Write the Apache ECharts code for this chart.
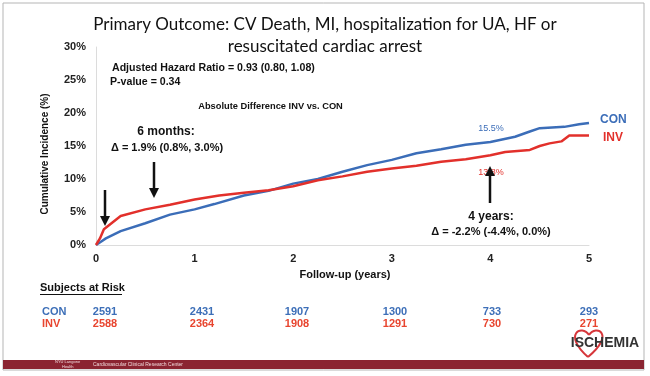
<!DOCTYPE html>
<html><head><meta charset="utf-8">
<script src="https://cdn.jsdelivr.net/npm/echarts@6/dist/echarts.min.js"></script>
<style>html,body{margin:0;padding:0;background:#fff}#c{width:650px;height:376px}</style>
</head><body><div id="c"></div>
<script>
// ---- data ----
const conTimes  = [0, 0.05, 0.1, 0.25, 0.5, 0.75, 1.0, 1.2, 1.5, 1.75, 2.0, 2.25, 2.5, 2.75, 3.0, 3.25, 3.5, 3.75, 4.0, 4.25, 4.4, 4.5, 4.75, 4.9, 5.0];
const conValues = [0, 0.5, 1.0, 2.1, 3.3, 4.6, 5.4, 6.2, 7.5, 8.2, 9.3, 10.0, 11.1, 12.1, 12.9, 13.9, 14.5, 15.2, 15.6, 16.4, 17.2, 17.7, 17.9, 18.3, 18.5];
const invTimes  = [0, 0.04, 0.08, 0.25, 0.5, 0.75, 1.0, 1.25, 1.5, 1.75, 2.0, 2.25, 2.5, 2.75, 3.0, 3.25, 3.5, 3.75, 4.0, 4.15, 4.4, 4.5, 4.6, 4.72, 4.8, 5.0];
const invValues = [0, 1.0, 2.4, 4.4, 5.4, 6.1, 6.9, 7.5, 7.9, 8.3, 8.9, 9.8, 10.4, 11.1, 11.6, 12.0, 12.6, 13.0, 13.6, 14.1, 14.4, 15.0, 15.4, 15.7, 16.6, 16.6];
const xTickLabels = ['0', '1', '2', '3', '4', '5'];
const yTickLabels = ['0%', '5%', '10%', '15%', '20%', '25%', '30%'];
const riskGroups = ['CON', 'INV'];
const riskCON = [2591, 2431, 1907, 1300, 733, 293];
const riskINV = [2588, 2364, 1908, 1291, 730, 271];

// ---- style / layout ----
const BLUE = '#3b6db8', RED = '#e2302b', RBLUE = '#3d6fb8', RRED = '#e8452f';
const riskColX = [105, 202, 297, 395, 492, 589];
const AF = 'Liberation Sans, Arial, sans-serif';

function pairs(t, v) { return t.map((x, i) => [x, v[i]]); }

const chart = echarts.init(document.getElementById('c'), null, {renderer: 'canvas'});

const txt = (x, y, s, o) => ({type: 'text', x, y, style: Object.assign({text: s, fontFamily: AF, fontWeight: 'bold', fontSize: 11, fill: '#111', textAlign: 'center', textVerticalAlign: 'middle'}, o || {})});
function arrow(x, y1, y2) {
  const dir = y2 > y1 ? 1 : -1;
  return [
    {type: 'line', shape: {x1: x, y1: y1, x2: x, y2: y2 - dir * 8}, style: {stroke: '#111', lineWidth: 2.5}},
    {type: 'polygon', shape: {points: [[x - 5, y2 - dir * 10], [x + 5, y2 - dir * 10], [x, y2]]}, style: {fill: '#111'}}
  ];
}

const yTitle = txt(45, 154, 'Cumulative Incidence (%)', {fontSize: 10});
yTitle.rotation = Math.PI / 2;

const heartStyle = {stroke: '#d6363a', lineWidth: 2, fill: 'none'};
const graphics = [
  {type: 'rect', shape: {x: 3, y: 3, width: 641, height: 367}, style: {fill: 'none', stroke: '#b5b5b5', lineWidth: 1}, z: -1},
  txt(325, 25, 'Primary Outcome: CV Death, MI, hospitalization for UA, HF or', {fontFamily: 'Lato, sans-serif', fontWeight: 'normal', fontSize: 17, fill: '#111'}),
  txt(325, 47, 'resuscitated cardiac arrest', {fontFamily: 'Lato, sans-serif', fontWeight: 'normal', fontSize: 17, fill: '#111'}),
  txt(112, 68, 'Adjusted Hazard Ratio = 0.93 (0.80, 1.08)', {fontSize: 10.6, textAlign: 'left'}),
  txt(110, 82, 'P-value = 0.34', {fontSize: 10.6, textAlign: 'left'}),
  txt(270.5, 106, 'Absolute Difference INV vs. CON', {fontSize: 9.3}),
  txt(166, 132, '6 months:', {fontSize: 12}),
  txt(167, 148, 'Δ = 1.9% (0.8%, 3.0%)', {fontSize: 11}),
  txt(491, 217, '4 years:', {fontSize: 12}),
  txt(491, 232, 'Δ = -2.2% (-4.4%, 0.0%)', {fontSize: 11}),
  txt(491, 129, '15.5%', {fontSize: 9, fontWeight: 'normal', fill: BLUE}),
  txt(491, 173, '13.8%', {fontSize: 9, fontWeight: 'normal', fill: RED}),
  txt(600, 120, 'CON', {fontSize: 12, textAlign: 'left', fill: BLUE}),
  txt(603, 138, 'INV', {fontSize: 12, textAlign: 'left', fill: RED}),
  yTitle,
  txt(345, 275, 'Follow-up (years)', {fontSize: 11}),
  txt(40, 288, 'Subjects at Risk', {fontSize: 11, textAlign: 'left'}),
  {type: 'line', shape: {x1: 40, y1: 294.5, x2: 122, y2: 294.5}, style: {stroke: '#111', lineWidth: 1}},
  txt(42, 312, riskGroups[0], {fontSize: 11, textAlign: 'left', fill: RBLUE}),
  txt(42, 324, riskGroups[1], {fontSize: 11, textAlign: 'left', fill: RRED}),
  {type: 'rect', shape: {x: 3, y: 360, width: 641, height: 9}, style: {fill: '#8b2431'}},
  txt(55, 362, 'NYU Langone', {fontSize: 4, fontWeight: 'normal', textAlign: 'left', fill: '#f0d8da'}),
  txt(62, 367, 'Health', {fontSize: 4, fontWeight: 'normal', textAlign: 'left', fill: '#f0d8da'}),
  txt(93, 364.5, 'Cardiovascular Clinical Research Center', {fontSize: 5, fontWeight: 'normal', textAlign: 'left', fill: '#f0d8da'}),
  {type: 'bezierCurve', shape: {x1: 589, y1: 335, cpx1: 582, cpy1: 324, cpx2: 562, cpy2: 334, x2: 588, y2: 357}, style: heartStyle},
  {type: 'bezierCurve', shape: {x1: 589, y1: 335, cpx1: 596, cpy1: 324, cpx2: 616, cpy2: 334, x2: 588, y2: 357}, style: heartStyle},
  txt(605, 343, 'ISCHEMIA', {fontSize: 14, fill: '#333'})
];
riskCON.forEach((v, i) => graphics.push(txt(riskColX[i], 312, String(v), {fontSize: 11, fill: RBLUE})));
riskINV.forEach((v, i) => graphics.push(txt(riskColX[i], 324, String(v), {fontSize: 11, fill: RRED})));
graphics.push(...arrow(105, 190, 226), ...arrow(154, 162, 198), ...arrow(490, 203, 166));

chart.setOption({
  animation: false,
  grid: {left: 96, right: 61, top: 47, bottom: 131, containLabel: false},
  xAxis: {
    type: 'value', min: 0, max: 5, interval: 1,
    axisLine: {lineStyle: {color: '#dcdcdc', width: 1}}, axisTick: {show: false}, splitLine: {show: false},
    axisLabel: {margin: 8, fontFamily: AF, fontWeight: 'bold', fontSize: 11, color: '#222', formatter: v => xTickLabels[Math.round(v)]}
  },
  yAxis: {
    type: 'value', min: 0, max: 30, interval: 5,
    axisLine: {show: true, lineStyle: {color: '#dcdcdc', width: 1}}, axisTick: {show: false}, splitLine: {show: false},
    axisLabel: {margin: 10, fontFamily: AF, fontWeight: 'bold', fontSize: 11, color: '#222', formatter: v => yTickLabels[Math.round(v / 5)]}
  },
  series: [
    {name: 'CON', type: 'line', data: pairs(conTimes, conValues), showSymbol: false, lineStyle: {color: BLUE, width: 2.5}, z: 3},
    {name: 'INV', type: 'line', data: pairs(invTimes, invValues), showSymbol: false, lineStyle: {color: RED, width: 2.5}, z: 4}
  ],
  graphic: graphics
});
</script></body></html>
